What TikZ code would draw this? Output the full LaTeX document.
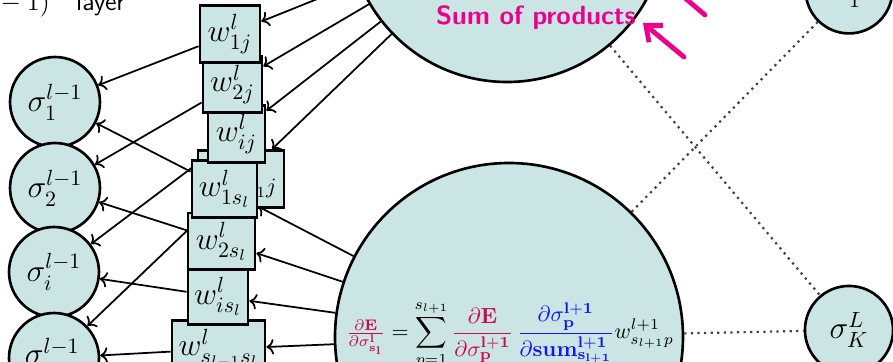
\documentclass[tikz,border=0pt]{standalone}
\usepackage{amsmath}
\usepackage{amssymb}
\usepackage{tikz}
\usetikzlibrary{arrows.meta,backgrounds}

\definecolor{nodefill}{RGB}{203,228,228}
\definecolor{gradred}{RGB}{204,10,80}
\definecolor{gradblue}{RGB}{20,20,240}

\begin{document}
\begin{tikzpicture}[x=0.016cm, y=-0.016cm, >=To,
  neuron/.style={circle, draw, very thick, fill=nodefill, minimum size=1.44cm, inner sep=0pt, font=\Large},
  weight/.style={draw, line width=1.3pt, fill=nodefill, minimum height=0.91cm, inner sep=1pt, font=\Large},
  bigsum/.style={circle, draw, very thick, fill=nodefill, inner sep=0pt},
  link/.style={->, thick},
  dotlink/.style={dotted, line width=1pt, black!75},
  scrawl/.style={magenta, line width=2.2pt, line cap=round, line join=round}]
\path[use as bounding box] (0,0) rectangle (893,362);
\clip (0,0) rectangle (893,362);
\node[bigsum, minimum size=5.09cm] (sumtop) at (507,-77) {};
\node[bigsum, minimum size=5.57cm] (sumbot) at (509,337) {};
\node[neuron, minimum size=1.39cm] (sigL1) at (849,-10) {$\sigma^L_1$};
\node[neuron, minimum size=1.41cm] (sigLK) at (849,330) {$\sigma^L_K$};
\node[neuron] (s1) at (55,102) {$\sigma^{l-1}_1$};
\node[neuron] (s2) at (55,188) {$\sigma^{l-1}_2$};
\node[neuron] (si) at (54,272) {$\sigma^{l-1}_i$};
\node[neuron] (ss) at (54,358) {$\sigma^{l-1}_{s_{l-1}}$};
\node[weight, minimum width=1.376cm] (wsj) at (241,179) {$w^l_{s_{l-1}j}$};
\node[weight, minimum width=1.488cm] (wss) at (218.5,349) {$w^l_{s_{l-1}s_l}$};
\node[weight, minimum width=0.96cm] (wis) at (218,296.5) {$w^l_{is_l}$};
\node[weight, minimum width=1.072cm] (w2s) at (221.5,241.5) {$w^l_{2s_l}$};
\node[weight, minimum width=1.04cm] (w1s) at (224.5,189) {$w^l_{1s_l}$};
\node[weight, minimum width=0.912cm] (wij) at (236.5,134) {$w^l_{ij}$};
\node[weight, minimum width=0.944cm] (w2j) at (232.5,84.5) {$w^l_{2j}$};
\node[weight, minimum width=0.96cm] (w1j) at (230,34) {$w^l_{1j}$};
\node[anchor=base east, font=\large] (layer) at (133,11) {$(l-1)$\quad\textsf{layer}};
\node (grad) at (510,335) {$\displaystyle
  \textcolor{gradred}{\tfrac{\partial \mathbf{E}}{\partial \sigma^{\mathbf{l}}_{\mathbf{s_l}}}}
  = \sum_{p=1}^{s_{l+1}}
  \textcolor{gradred}{\frac{\partial \mathbf{E}}{\partial \sigma^{\mathbf{l+1}}_{\mathbf{p}}}}\,
  \textcolor{gradblue}{\frac{\partial \sigma^{\mathbf{l+1}}_{\mathbf{p}}}{\partial \mathbf{sum}^{\mathbf{l+1}}_{\mathbf{s_{l+1}}}}}
  w^{l+1}_{s_{l+1}p}$};
% handwritten notes
\node[magenta, font=\large\sffamily\bfseries, anchor=base] (note) at (536,25) {Sum of products};
\coordinate (handtail) at (684,57);
\coordinate (handtip) at (643,23);
\draw[scrawl, -{Straight Barb[length=6pt,width=10pt]}] (handtail) -- (handtip);
\coordinate (strokeA) at (685,-2);
\coordinate (strokeB) at (705,15);
\draw[scrawl] (strokeA) -- (strokeB);
\begin{scope}[on background layer]
\draw[link] (w1j) -- (s1);
\draw[link] (w2j) -- (s2);
\draw[link] (wij) -- (si);
\draw[link] (wsj) -- (ss);
\draw[link] (w1s) -- (s1);
\draw[link] (w2s) -- (s2);
\draw[link] (wis) -- (si);
\draw[link] (wss) -- (ss);
\draw[link] (sumtop) -- (w1j);
\draw[link] (sumtop) -- (w2j);
\draw[link] (sumtop) -- (wij);
\draw[link] (sumtop) -- (wsj);
\draw[link] (sumbot) -- (w1s);
\draw[link] (sumbot) -- (w2s);
\draw[link] (sumbot) -- (wis);
\draw[link] (sumbot) -- (wss);
\draw[dotlink] (sumtop) -- (sigLK);
\draw[dotlink] (sumbot) -- (sigL1);
\draw[dotlink] (sumbot) -- (sigLK);
\end{scope}
\end{tikzpicture}
\end{document}
